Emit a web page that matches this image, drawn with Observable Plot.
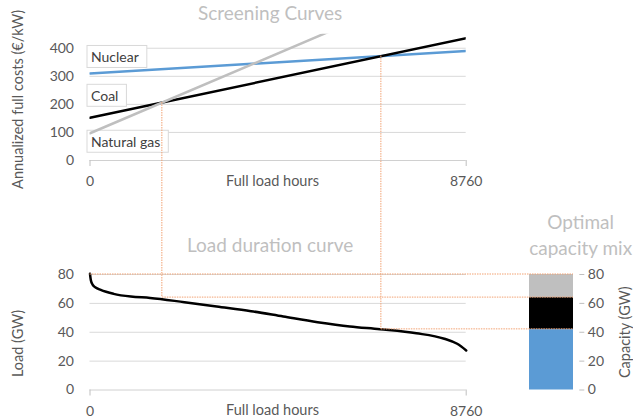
<!DOCTYPE html>
<html><head><meta charset="utf-8">
<script src="https://cdn.jsdelivr.net/npm/d3@7"></script>
<script src="https://cdn.jsdelivr.net/npm/@observablehq/plot@0.6"></script>
<style>
body{margin:0;background:#fff;}
#chart{position:relative;width:633px;height:419px;font-family:Lato,"Open Sans",sans-serif;}
#chart svg{position:absolute;left:0;top:0;overflow:visible;}
</style></head><body><div id="chart"></div>
<script>
// ---- data ----
const hourRange = [0, 8760];
const hourTicks = [0, 8760];
const technologies = ["Nuclear", "Coal", "Natural gas"];
const techColors = ["#5b9bd5", "#000000", "#bfbfbf"];
const costAt0 = [310, 152, 97];       // €/kW at 0 full load hours
const costAt8760 = [390, 436, 667];   // €/kW at 8760 full load hours
const costTicks = [0, 100, 200, 300, 400];
const loadHours = [0, 20, 60, 130, 250, 550, 950, 1400, 2200, 2950, 3750, 4500, 5300, 6050, 6750, 7600, 8250, 8550, 8760];
const loadGW    = [80.5, 76, 73, 71, 69.3, 66.6, 64.7, 63.8, 60.8, 57.8, 54.6, 50.9, 47.0, 44.0, 42.1, 39.3, 35.5, 32.0, 27.4];
const loadTicks = [0, 20, 40, 60, 80];
const capacityGW = [42, 22, 16];
const mixCategory = "Optimal capacity mix";
const titles = {screening: "Screening Curves", ldc: "Load duration curve", mix: "Optimal\ncapacity mix"};
const axisTitles = {hours: "Full load hours", cost: "Annualized full costs (€/kW)", load: "Load (GW)", cap: "Capacity (GW)"};

// ---- layout ----
const W = 633, H = 419;
const style = {fontFamily: "Lato, 'Open Sans', sans-serif", fontSize: "14px", color: "#595959", background: "transparent", overflow: "visible"};
const grid = "#d9d9d9";
const fmt = d => String(d);
const titleStyle = {fill: "#bfbfbf", fontSize: 19, textAnchor: "middle", lineAnchor: "middle"};
const axisTitleStyle = {fontSize: 14.5, textAnchor: "middle", lineAnchor: "middle"};

const costRows = technologies.flatMap((t, i) => [
  {tech: t, h: hourRange[0], cost: costAt0[i]},
  {tech: t, h: hourRange[1], cost: costAt8760[i]}
]);
const loadRows = loadHours.map((h, i) => ({h, gw: loadGW[i]}));
const capRows = technologies.map((t, i) => ({mix: mixCategory, tech: t, cap: capacityGW[i]}));

const labelDy = [-16, -21.5, 9];
const labelMarks = technologies.map((t, i) => Plot.text(
  [{tech: t, h: hourRange[0], cost: costAt0[i]}],
  {x: "h", y: "cost", text: "tech", textAnchor: "start", dx: 1, dy: labelDy[i], fill: "#404040"}
));

const plotA = Plot.plot({
  width: W, height: H,
  marginLeft: 89.5, marginRight: 167.3, marginTop: 33.7, marginBottom: H - 160,
  style,
  x: {domain: hourRange},
  y: {domain: [0, 450]},
  color: {domain: technologies, range: techColors},
  marks: [
    Plot.gridY(costTicks.slice(1), {stroke: grid, strokeOpacity: 1}),
    Plot.ruleY([0], {stroke: "#d0d0d0"}),
    Plot.axisY({ticks: costTicks, tickSize: 0, tickPadding: 16, label: null}),
    Plot.axisX({ticks: hourTicks, tickSize: 6, tickPadding: 10, stroke: "#bfbfbf", tickFormat: fmt, label: null}),
    Plot.text([axisTitles.hours], {text: d => d, frameAnchor: "bottom", dy: 21, dx: -5.6, ...axisTitleStyle}),
    Plot.text([axisTitles.cost], {text: d => d, frameAnchor: "left", rotate: -90, dx: -71.5, dy: 2, ...axisTitleStyle}),
    ...labelMarks,
    Plot.line(costRows, {x: "h", y: "cost", z: "tech", stroke: "tech", strokeWidth: 2.5, clip: true}),
    Plot.text([titles.screening], {text: d => d, frameAnchor: "top", dy: -20.7, dx: -8, ...titleStyle})
  ]
});

const plotB = Plot.plot({
  width: W, height: H,
  marginLeft: 89.5, marginRight: 167.3, marginTop: 274, marginBottom: H - 389.5,
  style,
  x: {domain: hourRange},
  y: {domain: [0, 80]},
  marks: [
    Plot.gridY(loadTicks.slice(1), {stroke: grid, strokeOpacity: 1}),
    Plot.ruleY([0], {stroke: "#d0d0d0"}),
    Plot.axisY({ticks: loadTicks, tickSize: 0, tickPadding: 16, label: null}),
    Plot.axisX({ticks: hourTicks, tickSize: 6, tickPadding: 9.6, stroke: "#bfbfbf", tickFormat: fmt, label: null}),
    Plot.text([axisTitles.hours], {text: d => d, frameAnchor: "bottom", dy: 20.5, dx: -5.6, ...axisTitleStyle}),
    Plot.text([axisTitles.load], {text: d => d, frameAnchor: "left", rotate: -90, dx: -71.5, dy: 11.25, ...axisTitleStyle}),
    Plot.line(loadRows, {x: "h", y: "gw", curve: "monotone-x", stroke: "#000", strokeWidth: 2.5}),
    Plot.text([titles.ldc], {text: d => d, frameAnchor: "top", dy: -29, dx: -8, ...titleStyle})
  ]
});

const barInset = 5;
const plotC = Plot.plot({
  width: W, height: H,
  marginLeft: 524, marginRight: W - 578.3, marginTop: 274, marginBottom: H - 389.5,
  style,
  x: {domain: [mixCategory], padding: 0, axis: null},
  y: {domain: [0, 80]},
  color: {domain: technologies, range: techColors},
  marks: [
    Plot.barY(capRows, Plot.stackY({x: "mix", y: "cap", fill: "tech", insetLeft: barInset, insetRight: barInset})),
    Plot.axisY({anchor: "right", ticks: loadTicks, tickSize: 5, tickPadding: 4, stroke: "#bfbfbf", label: null}),
    Plot.text([axisTitles.cap], {text: d => d, frameAnchor: "right", rotate: -90, dx: 46.2, ...axisTitleStyle}),
    Plot.text([titles.mix], {text: d => d, frameAnchor: "top", dx: 29, dy: -41, lineHeight: 1.37, ...titleStyle})
  ]
});

const chart = document.getElementById("chart");
chart.append(plotA, plotB, plotC);

// boxes behind series labels
plotA.querySelectorAll("text").forEach(t => {
  if (!technologies.includes(t.textContent)) return;
  const b = t.getBBox();
  const r = document.createElementNS("http://www.w3.org/2000/svg", "rect");
  r.setAttribute("x", b.x - 4); r.setAttribute("y", b.y - 2.5);
  r.setAttribute("width", b.width + 12); r.setAttribute("height", b.height + 5);
  r.setAttribute("fill", "#fff"); r.setAttribute("stroke", "#d9d9d9"); r.setAttribute("stroke-width", 1);
  const tr = t.getAttribute("transform"); if (tr) r.setAttribute("transform", tr);
  t.parentNode.insertBefore(r, t);
});

// connectors
const span = hourRange[1] - hourRange[0];
const slope = i => (costAt8760[i] - costAt0[i]) / span;
function intersect(i, j) {
  const h = (costAt0[j] - costAt0[i]) / (slope(i) - slope(j));
  return {h, cost: costAt0[i] + slope(i) * h};
}
const gasCoal = intersect(2, 1), coalNuc = intersect(1, 0);
const cum = d3.cumsum(capacityGW);
const xA = plotA.scale("x"), yA = plotA.scale("y"), xB = plotB.scale("x"), yB = plotB.scale("y"), xC = plotC.scale("x");
const barRight = xC.apply(mixCategory) + xC.bandwidth - barInset;
const segs = [
  [xA.apply(gasCoal.h), yA.apply(gasCoal.cost), xA.apply(gasCoal.h), yB.apply(cum[1])],
  [xA.apply(coalNuc.h), yA.apply(coalNuc.cost), xA.apply(coalNuc.h), yB.apply(cum[0])],
  [xB.apply(hourRange[0]), yB.apply(cum[2]), barRight, yB.apply(cum[2])],
  [xB.apply(gasCoal.h), yB.apply(cum[1]), barRight, yB.apply(cum[1])],
  [xB.apply(coalNuc.h), yB.apply(cum[0]), barRight, yB.apply(cum[0])]
];
const ov = d3.create("svg").attr("width", W).attr("height", H).style("pointer-events", "none");
ov.selectAll("line").data(segs).join("line")
  .attr("x1", d => d[0]).attr("y1", d => d[1]).attr("x2", d => d[2]).attr("y2", d => d[3])
  .attr("stroke", "#f2a273").attr("stroke-width", 1).attr("stroke-dasharray", "1.5 1");
chart.append(ov.node());
</script></body></html>
